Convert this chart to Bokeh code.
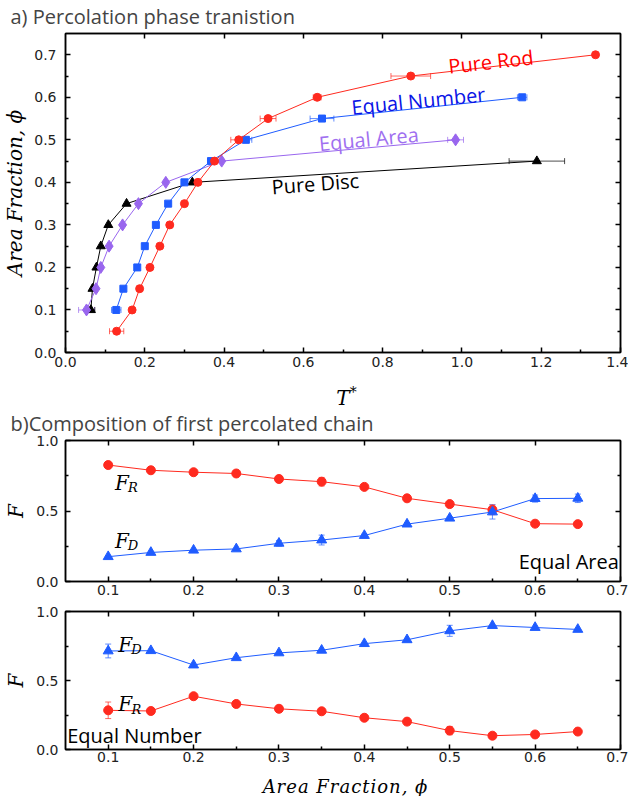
from bokeh.plotting import figure
from bokeh.models import (ColumnDataSource, Whisker, Range1d, LinearAxis, FixedTicker,
                          TeeHead, Label, PrintfTickFormatter, CustomLabelingPolicy, Div)
from bokeh.layouts import column
from bokeh.embed import file_html
from bokeh.resources import INLINE

# ---------------- data: panel a) percolation phase transition ----------------
phi_rod = [0.05, 0.10, 0.15, 0.20, 0.25, 0.30, 0.35, 0.40, 0.45, 0.50, 0.55, 0.60, 0.65, 0.70]
t_rod = [0.129, 0.168, 0.187, 0.213, 0.238, 0.263, 0.300, 0.334, 0.376, 0.437, 0.511, 0.635, 0.871, 1.337]
t_rod_err = [0.018, 0, 0, 0, 0, 0, 0, 0, 0, 0.02, 0.02, 0.01, 0.05, 0]

phi_num = [0.10, 0.15, 0.20, 0.25, 0.30, 0.35, 0.40, 0.45, 0.50, 0.55, 0.60]
t_num = [0.128, 0.146, 0.181, 0.200, 0.228, 0.259, 0.300, 0.367, 0.455, 0.647, 1.152]
t_num_err = [0.012, 0, 0, 0, 0, 0, 0, 0, 0.015, 0.03, 0.012]

phi_area = [0.10, 0.15, 0.20, 0.25, 0.30, 0.35, 0.40, 0.45, 0.50]
t_area = [0.053, 0.077, 0.089, 0.110, 0.144, 0.184, 0.253, 0.394, 0.984]
t_area_err = [0.02, 0, 0, 0, 0, 0, 0, 0, 0.02]

phi_disc = [0.10, 0.15, 0.20, 0.25, 0.30, 0.35, 0.40, 0.45]
t_disc = [0.064, 0.068, 0.078, 0.089, 0.108, 0.154, 0.320, 1.189]
t_disc_err = [0.01, 0, 0, 0, 0, 0, 0, 0.07]

# ---------------- data: panel b) composition of first percolated chain ----------------
phi_b = [0.10, 0.15, 0.20, 0.25, 0.30, 0.35, 0.40, 0.45, 0.50, 0.55, 0.60, 0.65]
fr_area = [0.826, 0.789, 0.775, 0.766, 0.727, 0.708, 0.671, 0.590, 0.549, 0.509, 0.410, 0.407]
fr_area_err = [0, 0, 0, 0, 0.015, 0.03, 0.01, 0.01, 0, 0.035, 0, 0]
fd_area = [0.176, 0.206, 0.222, 0.231, 0.271, 0.294, 0.326, 0.407, 0.449, 0.493, 0.588, 0.590]
fd_area_err = [0, 0, 0, 0, 0.02, 0.035, 0.01, 0.01, 0.01, 0.05, 0.025, 0.03]

fd_num = [0.714, 0.716, 0.612, 0.665, 0.700, 0.719, 0.767, 0.795, 0.860, 0.898, 0.884, 0.870]
fd_num_err = [0.05, 0, 0, 0, 0, 0, 0, 0, 0.04, 0, 0, 0]
fr_num = [0.284, 0.279, 0.386, 0.330, 0.295, 0.277, 0.230, 0.202, 0.137, 0.100, 0.109, 0.130]
fr_num_err = [0.06, 0, 0, 0, 0, 0, 0, 0, 0.03, 0, 0, 0]

# ---------------- ticks ----------------
a_xticks = [0.0, 0.2, 0.4, 0.6, 0.8, 1.0, 1.2, 1.4]
a_xminor = [0.1, 0.3, 0.5, 0.7, 0.9, 1.1, 1.3]
a_yticks = [0.0, 0.1, 0.2, 0.3, 0.4, 0.5, 0.6, 0.7]
a_yminor = [0.05, 0.15, 0.25, 0.35, 0.45, 0.55, 0.65]
b_xticks = [0.1, 0.2, 0.3, 0.4, 0.5, 0.6, 0.7]
b_xminor = [0.15, 0.25, 0.35, 0.45, 0.55, 0.65]
b_yticks = [0.0, 0.5, 1.0]
b_yminor = [0.25, 0.75]

RED = "#ff2a1f"
BLUE = "#1f5cff"
PURPLE = "#9966ee"
BLACK = "#000000"
TICK_FONT = "DejaVu Sans"
TEXT_FONT = "Open Sans"
MATH_FONT = "DejaVu Serif"

NO_LABELS = CustomLabelingPolicy(code="""
for (const i of indices) indices.unset(i)
return indices
""")


def style_axis(ax, label_size="14px"):
    ax.axis_line_width = 1.5
    ax.axis_line_color = "black"
    ax.major_tick_in = 5
    ax.major_tick_out = 0
    ax.minor_tick_in = 3
    ax.minor_tick_out = 0
    ax.major_tick_line_width = 1.5
    ax.minor_tick_line_width = 1.5
    ax.major_label_text_font = TICK_FONT
    ax.major_label_text_font_size = label_size
    ax.major_label_text_color = "#222222"
    ax.axis_label_text_font = MATH_FONT
    ax.axis_label_text_font_style = "italic"
    ax.axis_label_text_font_size = "20px"
    ax.axis_label_text_color = "black"


def make_fig(height, xr, yr, bl, bt, bb, br, xt, xm, yt, ym, top_t, right_t, right_m):
    p = figure(width=628, height=height, x_range=Range1d(*xr), y_range=Range1d(*yr),
               output_backend="svg", toolbar_location=None,
               min_border_left=bl, min_border_top=bt, min_border_bottom=bb, min_border_right=br)
    p.grid.visible = False
    p.outline_line_color = "black"
    p.outline_line_width = 1.5
    p.background_fill_color = "white"
    p.border_fill_color = "white"
    bx = p.below[0]
    ly = p.left[0]
    bx.ticker = FixedTicker(ticks=xt, minor_ticks=xm)
    ly.ticker = FixedTicker(ticks=yt, minor_ticks=ym)
    bx.formatter = PrintfTickFormatter(format="%.1f")
    ly.formatter = PrintfTickFormatter(format="%.1f")
    style_axis(bx)
    style_axis(ly)
    top = LinearAxis(ticker=FixedTicker(ticks=top_t, minor_ticks=[]))
    right = LinearAxis(ticker=FixedTicker(ticks=right_t, minor_ticks=right_m))
    for ax in (top, right):
        style_axis(ax, label_size="1px")
        ax.major_label_policy = NO_LABELS
        ax.major_label_standoff = 0
    p.add_layout(top, "above")
    p.add_layout(right, "right")
    return p, bx, ly


def whisker(p, base, vals, errs, color, dim):
    b = [bv for bv, e in zip(base, errs) if e > 0]
    lo = [v - e for v, e in zip(vals, errs) if e > 0]
    hi = [v + e for v, e in zip(vals, errs) if e > 0]
    src = ColumnDataSource(dict(base=b, lower=lo, upper=hi))
    w = Whisker(source=src, base="base", lower="lower", upper="upper", dimension=dim,
                line_color=color, line_width=1, line_alpha=0.7,
                upper_head=TeeHead(size=6, line_color=color, line_alpha=0.7),
                lower_head=TeeHead(size=6, line_color=color, line_alpha=0.7))
    p.add_layout(w)


def label(p, x, y, text, color="black", size="20px", font=TEXT_FONT, style="normal",
          angle=0.0, align="center"):
    p.add_layout(Label(x=x, y=y, text=text, text_color=color, text_font=font,
                       text_font_size=size, text_font_style=style, angle=angle,
                       text_align=align, text_baseline="middle"))


def set_title(p, text, offset):
    p.title.text = text
    p.title.text_font = TEXT_FONT
    p.title.text_font_size = "20px"
    p.title.text_font_style = "normal"
    p.title.align = "left"
    p.title.offset = offset
    p.title.standoff = 0


def axis_title_div(html, height, pad_left, size, spacing="0px"):
    return Div(text=html, width=628, height=height,
               styles={"font-family": "'DejaVu Serif'", "font-style": "italic",
                       "font-size": size, "line-height": f"{height}px",
                       "letter-spacing": spacing,
                       "text-align": "center", "padding-left": f"{pad_left}px",
                       "box-sizing": "border-box", "color": "black",
                       "white-space": "nowrap", "overflow": "visible"})


# ---------------- panel a ----------------
p1, bx1, ly1 = make_fig(377, (0, 1.4), (0, 0.75), 63, 31, 25, 8,
                        a_xticks, a_xminor, a_yticks, a_yminor,
                        a_xticks[1:-1], a_yticks[1:], a_yminor)
set_title(p1, "a) Percolation phase tranistion", -55)
bx1.major_label_standoff = 4
ly1.axis_label = "Area Fraction, ϕ"
ly1.axis_label_standoff = 4
ly1.major_label_standoff = 9

series = [
    (t_rod, phi_rod, t_rod_err, RED, "circle", 8),
    (t_num, phi_num, t_num_err, BLUE, "square", 7),
    (t_area, phi_area, t_area_err, PURPLE, "diamond", 12),
    (t_disc, phi_disc, t_disc_err, BLACK, "triangle", 9),
]
for xs, ys, errs, col, mk, sz in series:
    whisker(p1, ys, xs, errs, col, "width")
for xs, ys, errs, col, mk, sz in series[::-1]:
    p1.line(xs, ys, line_color=col, line_width=1)
    p1.scatter(xs, ys, marker=mk, size=sz, fill_color=col, line_color=col)

label(p1, 1.073, 0.684, "Pure Rod", color="#ff0000", angle=0.11)
label(p1, 0.89, 0.592, "Equal Number", color="#0a14e6", angle=0.10)
label(p1, 0.765, 0.502, "Equal Area", color="#a070f0", angle=0.095)
label(p1, 0.63, 0.397, "Pure Disc", color="black", angle=0.075)

t_label = axis_title_div("<i>T</i><sup style='font-size:14px'>*</sup>", 20, 55, "20px")

# ---------------- panel b (equal area) ----------------
p2, bx2, ly2 = make_fig(198, (0.05, 0.7), (0, 1.0), 60, 32, 24, 6,
                        b_xticks, b_xminor, b_yticks, b_yminor,
                        b_xticks[:-1], b_yticks[1:-1], b_yminor)
set_title(p2, "b)Composition of first percolated chain", -55)
ly2.axis_label = "F"
ly2.major_label_standoff = 7
bx2.major_label_standoff = 3

whisker(p2, phi_b, fr_area, fr_area_err, RED, "height")
whisker(p2, phi_b, fd_area, fd_area_err, BLUE, "height")
p2.line(phi_b, fr_area, line_color=RED, line_width=1)
p2.scatter(phi_b, fr_area, marker="circle", size=9, fill_color=RED, line_color=RED)
p2.line(phi_b, fd_area, line_color=BLUE, line_width=1)
p2.scatter(phi_b, fd_area, marker="triangle", size=10, fill_color=BLUE, line_color=BLUE)

label(p2, 0.116, 0.70, "F", font=MATH_FONT, style="italic", size="20px")
label(p2, 0.129, 0.665, "R", font=MATH_FONT, style="italic", size="13px")
label(p2, 0.116, 0.289, "F", font=MATH_FONT, style="italic", size="20px")
label(p2, 0.129, 0.254, "D", font=MATH_FONT, style="italic", size="13px")
label(p2, 0.698, 0.139, "Equal Area", align="right")

# ---------------- panel b (equal number) ----------------
p3, bx3, ly3 = make_fig(166, (0.05, 0.7), (0, 1.0), 59, 6, 22, 6,
                        b_xticks, b_xminor, b_yticks, b_yminor,
                        b_xticks[:-1], b_yticks[1:-1], b_yminor)
ly3.axis_label = "F"
ly3.major_label_standoff = 7
bx3.major_label_standoff = 2

whisker(p3, phi_b, fr_num, fr_num_err, RED, "height")
whisker(p3, phi_b, fd_num, fd_num_err, BLUE, "height")
p3.line(phi_b, fd_num, line_color=BLUE, line_width=1)
p3.scatter(phi_b, fd_num, marker="triangle", size=10, fill_color=BLUE, line_color=BLUE)
p3.line(phi_b, fr_num, line_color=RED, line_width=1)
p3.scatter(phi_b, fr_num, marker="circle", size=9, fill_color=RED, line_color=RED)

label(p3, 0.12, 0.759, "F", font=MATH_FONT, style="italic", size="20px")
label(p3, 0.133, 0.725, "D", font=MATH_FONT, style="italic", size="13px")
label(p3, 0.12, 0.327, "F", font=MATH_FONT, style="italic", size="20px")
label(p3, 0.133, 0.293, "R", font=MATH_FONT, style="italic", size="13px")
label(p3, 0.052, 0.105, "Equal Number", align="left")

phi_label = axis_title_div("Area Fraction, ϕ", 21, 53, "18px", spacing="1px")

layout = column(p1, t_label, p2, p3, phi_label, spacing=0)
open("out.html", "w").write(file_html(layout, INLINE))
